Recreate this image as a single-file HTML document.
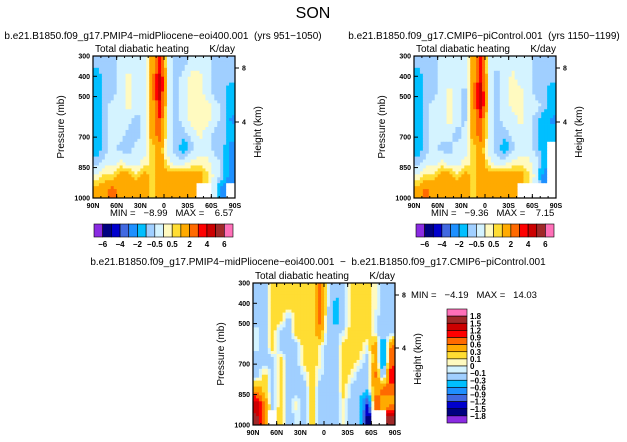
<!DOCTYPE html>
<html><head><meta charset="utf-8"><style>
body{margin:0;background:#fff;}
svg{display:block;font-family:"Liberation Sans",sans-serif;}
text{white-space:pre;}
</style></head><body>
<svg id="c" width="627" height="442" viewBox="0 0 627 442">
<text x="313" y="18" font-size="16" text-anchor="middle">SON</text>
<g id="plots"></g>
</svg>
<script>
// ---- data (K/day), rows top (300mb) -> bottom (1000mb), cols 90N -> 90S ----
const latLabels=["90N","60N","30N","0","30S","60S","90S"];
const presTicks=[300,400,500,700,850,1000];
const heightTicks=[8,4];
const levelsTop=[-6,-5,-4,-3,-2,-1,-0.5,0,0.5,1,2,3,4,5,6];
const levelLabelsTop=["-6","-4","-2","-0.5","0.5","2","4","6"];
const levelsDiff=[-1.8,-1.5,-1.2,-0.9,-0.6,-0.3,-0.1,0,0.1,0.3,0.6,0.9,1.2,1.5,1.8];
const levelLabelsDiff=["1.8","1.5","1.2","0.9","0.6","0.3","0.1","0","-0.1","-0.3","-0.6","-0.9","-1.2","-1.5","-1.8"];
const N=null;
const pmip=[
[-0.7,-0.7,-0.7,-0.3,-0.3,-0.3,-0.3,1.5,3.5,-0.3,-0.7,-0.7,-0.3,-0.3,-0.3,-0.7,-0.7,-0.7],
[-1.5,-0.7,-0.7,-0.3,0.2,-0.3,-0.3,1.5,4.5,-0.3,-0.7,-0.3,0.2,0.2,-0.3,-0.7,-0.7,-0.7],
[-1.5,-0.7,-0.7,-0.3,0.2,-0.3,-0.3,1.5,4.5,-0.3,-0.7,-0.3,0.2,0.2,-0.3,-0.7,-0.7,-1.5],
[-1.5,-0.7,-0.3,-0.3,0.2,-0.3,-0.3,1.5,4,-0.3,-0.7,-0.3,0.2,0.2,0.2,-0.3,-0.7,-1.5],
[-1.5,-0.7,-0.3,-0.3,-0.3,-0.7,-0.3,1.5,3,-0.3,-0.7,-0.3,0.2,0.2,0.2,-0.3,-0.7,-2.2],
[-1.5,-0.7,-0.3,-0.3,-0.7,-0.7,-0.3,1.5,2.5,-0.3,-0.7,-0.7,-0.3,0.2,-0.3,-0.7,-0.7,-1.5],
[-1.5,-0.7,-0.3,-0.7,-0.7,-0.3,-0.3,0.7,1.5,-0.3,-0.7,-1.5,-0.7,-0.3,-0.3,-0.7,-0.7,-2.5],
[-0.7,-0.3,-0.3,0.2,-0.3,-0.3,0.2,0.7,1.5,0.2,-0.3,-0.3,0.2,0.2,0.2,-0.3,-0.7,-2.5],
[0.2,0.7,0.7,1.5,1.5,0.7,1.5,0.7,1.5,1.5,1.5,1.5,1.5,1.5,0.7,-0.3,-0.7,-3],
[1.5,1.5,2.5,1.5,1.5,1.5,1.5,0.7,1.5,1.5,1.5,1.5,1.5,N,N,-0.3,-3,N]];
const pictl=[
[-0.7,-0.7,-0.7,-0.3,-0.3,-0.3,-0.3,1.5,3.5,-0.3,-0.3,-0.3,-0.3,-0.3,-0.3,-0.7,-0.7,-0.7],
[-1.5,-0.7,-0.7,-0.3,-0.3,-0.3,-0.3,1.5,4,-0.3,-0.7,-0.3,0.2,-0.3,-0.3,-0.7,-0.7,-0.7],
[-1.5,-0.7,-0.7,-0.3,0.2,-0.3,-0.7,1.5,4.5,-0.3,-0.7,-0.3,0.2,0.2,-0.3,-0.7,-0.7,-1.5],
[-1.5,-0.7,-0.3,-0.3,0.2,-0.3,-0.7,1.5,4.5,-0.3,-0.7,-0.3,0.2,0.2,-0.3,-0.3,-0.7,-1.5],
[-1.5,-0.7,-0.3,-0.3,0.2,-0.3,-0.7,1.5,3,-0.3,-0.7,-0.3,-0.3,0.2,-0.3,-0.7,-1.5,-2.2],
[-1.5,-0.7,-0.3,-0.3,-0.3,-0.7,-0.3,1.5,2.5,-0.3,-0.7,-0.7,-0.3,-0.3,-0.3,-0.7,-1.5,-1.5],
[-1.5,-0.7,-0.3,-0.7,-0.7,-0.3,-0.3,0.7,1.5,-0.3,-0.7,-1.5,-0.7,-0.3,-0.3,-0.7,-1.5,N],
[-0.7,-0.3,-0.3,0.2,-0.3,-0.3,0.2,0.7,1.5,0.2,-0.3,-0.3,0.2,0.2,0.2,-0.3,-1.5,N],
[0.2,0.7,0.7,1.5,1.5,0.7,1.5,0.7,1.5,1.5,1.5,1.5,1.5,1.5,0.7,-0.3,-2.5,N],
[1.5,2.5,1.5,1.5,1.5,1.5,1.5,0.7,1.5,1.5,1.5,1.5,1.5,N,N,N,N,N]];
const diff=[
[-0.2,-0.2,0.2,0.2,0.2,0.2,0.2,0.2,0.7,-0.05,-0.2,-0.2,0.2,0.2,0.2,0.05,-0.2,-0.2],
[-0.2,-0.2,0.2,0.2,0.2,0.2,0.2,0.2,0.7,-0.05,-0.4,-0.2,0.2,0.2,0.2,0.05,-0.2,-0.2],
[-0.2,-0.2,0.2,0.2,-0.2,0.2,0.2,0.2,0.7,-0.2,-0.4,-0.2,0.2,0.2,0.2,-0.05,-0.2,-0.2],
[-0.05,-0.2,0.2,-0.2,-0.2,0.2,0.2,0.2,0.5,-0.2,-0.2,-0.05,0.2,0.2,0.2,-0.05,-0.2,-0.2],
[-0.05,-0.2,0.2,-0.2,-0.2,-0.2,0.2,0.2,0.05,-0.2,-0.2,0.2,0.2,0.2,-0.05,0.5,-0.7,0.7],
[-0.2,-0.2,-0.2,0.2,-0.2,-0.2,0.2,0.2,0.05,-0.2,-0.2,0.2,0.2,0.05,-0.2,0.5,-0.7,0.7],
[-0.2,0.2,-0.2,0.2,-0.2,-0.2,-0.05,0.2,-0.05,-0.2,-0.2,0.2,0.05,-0.2,-0.2,0.7,-0.4,1.2],
[0.5,0.2,-0.2,0.2,-0.2,-0.2,-0.2,0.2,-0.2,-0.2,-0.2,0.2,-0.2,-0.2,-0.2,0.5,0.7,0.7],
[1.3,0.5,-0.2,0.2,-0.2,0.05,-0.2,0.2,-0.2,-0.2,-0.2,0.05,-0.2,-0.2,-1.3,0.7,0.5,0.5],
[1.6,0.5,N,0.2,-0.2,-0.05,-0.2,0.2,-0.2,-0.2,-0.2,0.05,-0.2,-0.2,-1.6,N,N,1.6]];
const colors=["#8a2be2","#000080","#0000cd","#4169e1","#1e90ff","#00bfff","#a0cfff","#d4f3ff","#fffac0","#ffdd33","#ffaa00","#ff6a00","#ff0000","#cc0000","#a02828","#ff70b8"];

const NS="http://www.w3.org/2000/svg";
const root=document.getElementById('plots');
function el(t,a,p){const e=document.createElementNS(NS,t);for(const k in a)e.setAttribute(k,a[k]);(p||root).appendChild(e);return e;}
function colorFor(v,lv){if(v===null)return "#fff";let i=0;while(i<lv.length&&v>=lv[i])i++;return colors[i];}
function sample(g,fx,fy){
  const R=g.length,C=g[0].length;
  let cx=fx-0.5,cy=fy-0.5;
  const ni=Math.min(R-1,Math.max(0,Math.floor(fy))),nj=Math.min(C-1,Math.max(0,Math.floor(fx)));
  if(g[ni][nj]===null)return null;
  cx=Math.max(0,Math.min(C-1,cx));cy=Math.max(0,Math.min(R-1,cy));
  const j0=Math.floor(cx),i0=Math.floor(cy),j1=Math.min(C-1,j0+1),i1=Math.min(R-1,i0+1);
  const tx=cx-j0,ty=cy-i0;
  const g2=(i,j)=>g[i][j]===null?g[ni][nj]:g[i][j];
  return (g2(i0,j0)*(1-tx)+g2(i0,j1)*tx)*(1-ty)+(g2(i1,j0)*(1-tx)+g2(i1,j1)*tx)*ty;
}
function panel(g,x0,y0,w,h,lv,name,ht8,ht4){
  const grp=el('g',{});
  
  
  const latScale=lat=>x0+(90-lat)/180*w;
  const pScale=p=>y0+(p-300)/700*h;
  const R=g.length,C=g[0].length,S=48;
  for(let a=0;a<S;a++)for(let b=0;b<S;b++){
    const fx=(b+0.5)/S*C,fy=(a+0.5)/S*R;
    const v=sample(g,fx,fy);
    const r=el('rect',{x:(x0+b*w/S).toFixed(2),y:(y0+a*h/S).toFixed(2),width:(w/S+0.4).toFixed(2),height:(h/S+0.4).toFixed(2),fill:colorFor(v,lv)},grp);
    
    
  }
  el('rect',{x:x0,y:y0,width:w,height:h,fill:'none',stroke:'#000','stroke-width':1.2},grp);
  latLabels.forEach((l,i)=>{const lat=90-i*30,x=latScale(lat);
    el('line',{x1:x,x2:x,y1:y0+h,y2:y0+h-4,stroke:'#000'},grp);
    el('line',{x1:x,x2:x,y1:y0,y2:y0+4,stroke:'#000'},grp);
    const t=el('text',{x:x,y:y0+h+10,'font-size':7,'text-anchor':'middle','font-weight':'bold'},grp);t.textContent=l;
    });
  for(let lat=80;lat>-90;lat-=10){const x=latScale(lat);el('line',{x1:x,x2:x,y1:y0+h,y2:y0+h-2,stroke:'#000'},grp);el('line',{x1:x,x2:x,y1:y0,y2:y0+2,stroke:'#000'},grp);}
  presTicks.forEach(p=>{const y=pScale(p);el('line',{x1:x0,x2:x0+4,y1:y,y2:y,stroke:'#000'},grp);
    const t=el('text',{x:x0-3,y:y+2.5,'font-size':7,'text-anchor':'end','font-weight':'bold'},grp);t.textContent=p;
    });
  [ht8,ht4].forEach((y,i)=>{el('line',{x1:x0+w,x2:x0+w+4,y1:y,y2:y,stroke:'#000'},grp);
    const t=el('text',{x:x0+w+7,y:y+2.5,'font-size':7,'font-weight':'bold'},grp);t.textContent=heightTicks[i];
    });
  let t=el('text',{x:x0+2,y:y0-4,'font-size':10},grp);t.textContent='Total diabatic heating';
  
  t=el('text',{x:x0+w,y:y0-4,'font-size':10,'text-anchor':'end'},grp);t.textContent='K/day';
  
  t=el('text',{transform:`translate(${x0-29},${y0+h/2}) rotate(-90)`,'font-size':10,'text-anchor':'middle'},grp);t.textContent='Pressure (mb)';
  
  t=el('text',{transform:`translate(${x0+w+26},${y0+h/2+5}) rotate(-90)`,'font-size':10,'text-anchor':'middle'},grp);t.textContent='Height (km)';
  
}
function txt(x,y,str,anchor,name,size){const t=el('text',{x:x,y:y,'font-size':size||9.5,'text-anchor':anchor||'start','xml:space':'preserve'});t.textContent=str;
  return t;}
function hbar(x0,y0,w,h){const n=colors.length,bw=w/n;const g=el('g',{});
  
  colors.forEach((c,i)=>{const r=el('rect',{x:x0+i*bw,y:y0,width:bw,height:h,fill:c,stroke:'#000','stroke-width':0.6},g);
    });
  levelLabelsTop.forEach((l,i)=>{const t=el('text',{x:x0+(1+2*i)*bw,y:y0+h+10,'font-size':8,'text-anchor':'middle','font-weight':'bold'},g);
    t.textContent=l.replace('-','\u2212');});}
function vbar(x0,y0,w,h){const n=colors.length,bh=h/n;const g=el('g',{});
  
  colors.slice().reverse().forEach((c,i)=>{const r=el('rect',{x:x0,y:y0+i*bh,width:w,height:bh,fill:c,stroke:'#000','stroke-width':0.6},g);
    });
  levelLabelsDiff.forEach((l,i)=>{const t=el('text',{x:x0+w+3,y:y0+(i+1)*bh+3,'font-size':8,'font-weight':'bold'},g);
    t.textContent=l.replace('-','\u2212');});}

txt(163,39,'b.e21.B1850.f09_g17.PMIP4\u2212midPliocene\u2212eoi400.001  (yrs 951\u22121050)','middle','panel1-title',10);
txt(484,39,'b.e21.B1850.f09_g17.CMIP6\u2212piControl.001  (yrs 1150\u22121199)','middle','panel2-title',10);
txt(318,265,'b.e21.B1850.f09_g17.PMIP4\u2212midPliocene\u2212eoi400.001  \u2212  b.e21.B1850.f09_g17.CMIP6\u2212piControl.001','middle','panel3-title',10);
panel(pmip,93,56,142,142,levelsTop,'panel-pliocene',68,122);
panel(pictl,414,56,142,142,levelsTop,'panel-picontrol',68,122);
panel(diff,253,283,142,142,levelsDiff,'panel-difference',295,348);
txt(110,216,'MIN =   \u22128.99   MAX =    6.57','start','panel1-minmax',9.5);
txt(431,216,'MIN =   \u22129.36   MAX =    7.15','start','panel2-minmax',9.5);
txt(411,298,'MIN =   \u22124.19   MAX =   14.03','start','panel3-minmax',9.5);
hbar(94,224,139,13);
hbar(416,224,138,13);
vbar(447,309,20,114);
</script>
</body></html>
